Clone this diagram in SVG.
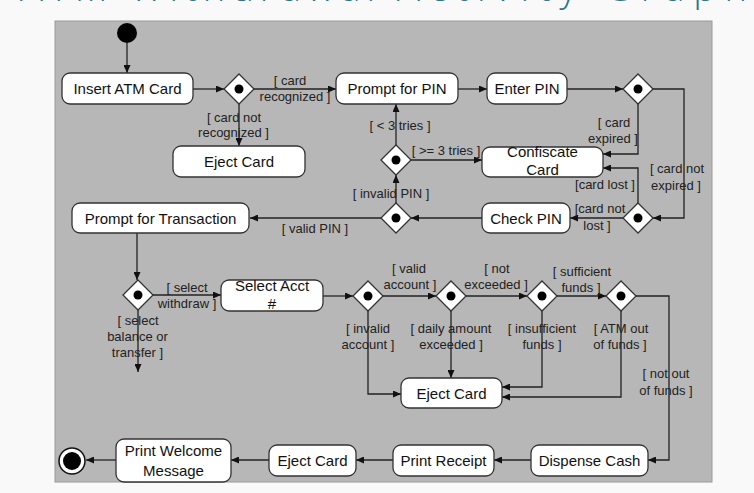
<svg xmlns="http://www.w3.org/2000/svg" width="754" height="493" viewBox="0 0 754 493">
<defs>
<marker id="ah" markerUnits="userSpaceOnUse" markerWidth="8" markerHeight="7" refX="8" refY="3.5" orient="auto">
<path d="M0,0 L8,3.5 L0,7 z" fill="#111"/>
</marker>
<style>
.node rect{fill:#fff;stroke:#333;stroke-width:1.3}
.node text{font-family:"Liberation Sans",Arial,sans-serif;font-size:15px;fill:#111;text-anchor:middle}
.dec polygon{fill:#fff;stroke:#333;stroke-width:1.3}
.dec circle{fill:#000}
#connectors path{fill:none;stroke:#222;stroke-width:1.3;marker-end:url(#ah)}
.g{font-family:"Liberation Sans",Arial,sans-serif;font-size:13px;fill:#222;text-anchor:middle}
.t{font-family:"Open Sans",sans-serif;font-size:38px;fill:#2a7591;font-weight:300}
</style>
</defs>
<rect x="0" y="0" width="754" height="493" fill="#f9f9f9"/>
<g id="title">
<text class="t" x="20" y="1" textLength="355" lengthAdjust="spacing">ATM Withdrawal</text>
<text class="t" x="397" y="1" textLength="350" lengthAdjust="spacing">Activity Graph</text>
</g>
<rect x="55" y="21" width="657" height="461" fill="#b7b7b7" stroke="#9a9a9a" stroke-width="1"/>

<g id="connectors">
<path d="M127,43 V73"/>
<path d="M193,89 H224"/>
<path d="M254,89 H336"/>
<path d="M239,104 V146"/>
<path d="M458,89 H487"/>
<path d="M567,89 H623"/>
<path d="M638,104 V154 H603"/>
<path d="M653,89 H684 V218 H653"/>
<path d="M638,203 V168 H603"/>
<path d="M623,218 H570"/>
<path d="M482,218 H411"/>
<path d="M381,218 H250"/>
<path d="M396,203 V175"/>
<path d="M396,145 V104"/>
<path d="M411,160 H482"/>
<path d="M137,233 V280"/>
<path d="M153,295 H221"/>
<path d="M138,310 V372"/>
<path d="M323,296 H353"/>
<path d="M383,296 H436"/>
<path d="M466,296 H527"/>
<path d="M557,296 H606"/>
<path d="M368,311 V394 H401"/>
<path d="M451,311 V378"/>
<path d="M542,311 V387 H502"/>
<path d="M621,311 V397 H502"/>
<path d="M636,296 H669 V460 H648"/>
<path d="M531,460 H494"/>
<path d="M393,460 H356"/>
<path d="M269,460 H231"/>
<path d="M116,460 H86"/>
</g>

<g id="start"><circle cx="127" cy="33" r="10" fill="#000"/></g>

<g id="insert" class="node"><rect x="62" y="73" width="131" height="31" rx="8"/><text x="127.5" y="94">Insert ATM Card</text></g>
<g id="d1" class="dec"><polygon points="239,74 254,89 239,104 224,89"/><circle cx="239" cy="89" r="4.5"/></g>
<g id="eject1" class="node"><rect x="173" y="146" width="132" height="31" rx="8"/><text x="239" y="167">Eject Card</text></g>
<g id="promptpin" class="node"><rect x="336" y="73" width="122" height="31" rx="8"/><text x="397" y="94">Prompt for PIN</text></g>
<g id="enterpin" class="node"><rect x="487" y="73" width="80" height="31" rx="8"/><text x="527" y="94">Enter PIN</text></g>
<g id="d2" class="dec"><polygon points="638,74 653,89 638,104 623,89"/><circle cx="638" cy="89" r="4.5"/></g>
<g id="confiscate" class="node"><rect x="482" y="147" width="121" height="30" rx="8"/><text x="542.5" y="157">Confiscate</text><text x="542.5" y="175">Card</text></g>
<g id="d4" class="dec"><polygon points="396,145 411,160 396,175 381,160"/><circle cx="396" cy="160" r="4.5"/></g>
<g id="checkpin" class="node"><rect x="482" y="203" width="88" height="30" rx="8"/><text x="526" y="224">Check PIN</text></g>
<g id="d6" class="dec"><polygon points="638,203 653,218 638,233 623,218"/><circle cx="638" cy="218" r="4.5"/></g>
<g id="d5" class="dec"><polygon points="396,203 411,218 396,233 381,218"/><circle cx="396" cy="218" r="4.5"/></g>
<g id="prompttrans" class="node"><rect x="72" y="203" width="177" height="30" rx="8"/><text x="160.5" y="224">Prompt for Transaction</text></g>
<g id="d7" class="dec"><polygon points="138,280 153,295 138,310 123,295"/><circle cx="138" cy="295" r="4.5"/></g>
<g id="selectacct" class="node"><rect x="221" y="280" width="102" height="31" rx="8"/><text x="272" y="291">Select Acct</text><text x="272" y="309">#</text></g>
<g id="dA" class="dec"><polygon points="368,281 383,296 368,311 353,296"/><circle cx="368" cy="296" r="4.5"/></g>
<g id="dB" class="dec"><polygon points="451,281 466,296 451,311 436,296"/><circle cx="451" cy="296" r="4.5"/></g>
<g id="dC" class="dec"><polygon points="542,281 557,296 542,311 527,296"/><circle cx="542" cy="296" r="4.5"/></g>
<g id="dD" class="dec"><polygon points="621,281 636,296 621,311 606,296"/><circle cx="621" cy="296" r="4.5"/></g>
<g id="eject2" class="node"><rect x="401" y="378" width="101" height="30" rx="8"/><text x="451.5" y="399">Eject Card</text></g>
<g id="dispense" class="node"><rect x="531" y="445" width="117" height="31" rx="8"/><text x="589.5" y="466">Dispense Cash</text></g>
<g id="receipt" class="node"><rect x="393" y="445" width="101" height="31" rx="8"/><text x="443.5" y="466">Print Receipt</text></g>
<g id="eject3" class="node"><rect x="269" y="445" width="87" height="31" rx="8"/><text x="312.5" y="466">Eject Card</text></g>
<g id="welcome" class="node"><rect x="116" y="439" width="115" height="43" rx="8"/><text x="173.5" y="456">Print Welcome</text><text x="173.5" y="476">Message</text></g>
<g id="end"><circle cx="72" cy="461" r="13" fill="#fff" stroke="#111" stroke-width="1.5"/><circle cx="72" cy="461" r="9" fill="#000"/></g>

<g id="labels">
<text class="g" x="290" y="85">[ card</text>
<text class="g" x="295" y="101">recognized ]</text>
<text class="g" x="234" y="122">[ card not</text>
<text class="g" x="233.5" y="137">recognized ]</text>
<text class="g" x="400" y="130">[ &lt; 3 tries ]</text>
<text class="g" x="446" y="155">[ &gt;= 3 tries ]</text>
<text class="g" x="614" y="127">[ card</text>
<text class="g" x="613" y="143">expired ]</text>
<text class="g" x="677" y="173">[ card not</text>
<text class="g" x="676" y="190">expired ]</text>
<text class="g" x="605" y="189">[card lost ]</text>
<text class="g" x="391" y="198">[ invalid PIN ]</text>
<text class="g" x="600" y="213">[card not</text>
<text class="g" x="597" y="230">lost ]</text>
<text class="g" x="315" y="233">[ valid PIN ]</text>
<text class="g" x="187" y="292">[ select</text>
<text class="g" x="187" y="308">withdraw ]</text>
<text class="g" x="138" y="325">[ select</text>
<text class="g" x="137.5" y="341">balance or</text>
<text class="g" x="137.5" y="357">transfer ]</text>
<text class="g" x="409" y="273">[ valid</text>
<text class="g" x="410" y="289">account ]</text>
<text class="g" x="497" y="273">[ not</text>
<text class="g" x="496" y="289">exceeded ]</text>
<text class="g" x="582" y="276">[ sufficient</text>
<text class="g" x="581" y="292">funds ]</text>
<text class="g" x="368" y="333">[ invalid</text>
<text class="g" x="368" y="349">account ]</text>
<text class="g" x="451" y="333">[ daily amount</text>
<text class="g" x="451" y="349">exceeded ]</text>
<text class="g" x="542" y="333">[ insufficient</text>
<text class="g" x="542" y="349">funds ]</text>
<text class="g" x="621" y="333">[ ATM out</text>
<text class="g" x="620" y="349">of funds ]</text>
<text class="g" x="666" y="378">[ not out</text>
<text class="g" x="666" y="395">of funds ]</text>
</g>
</svg>
